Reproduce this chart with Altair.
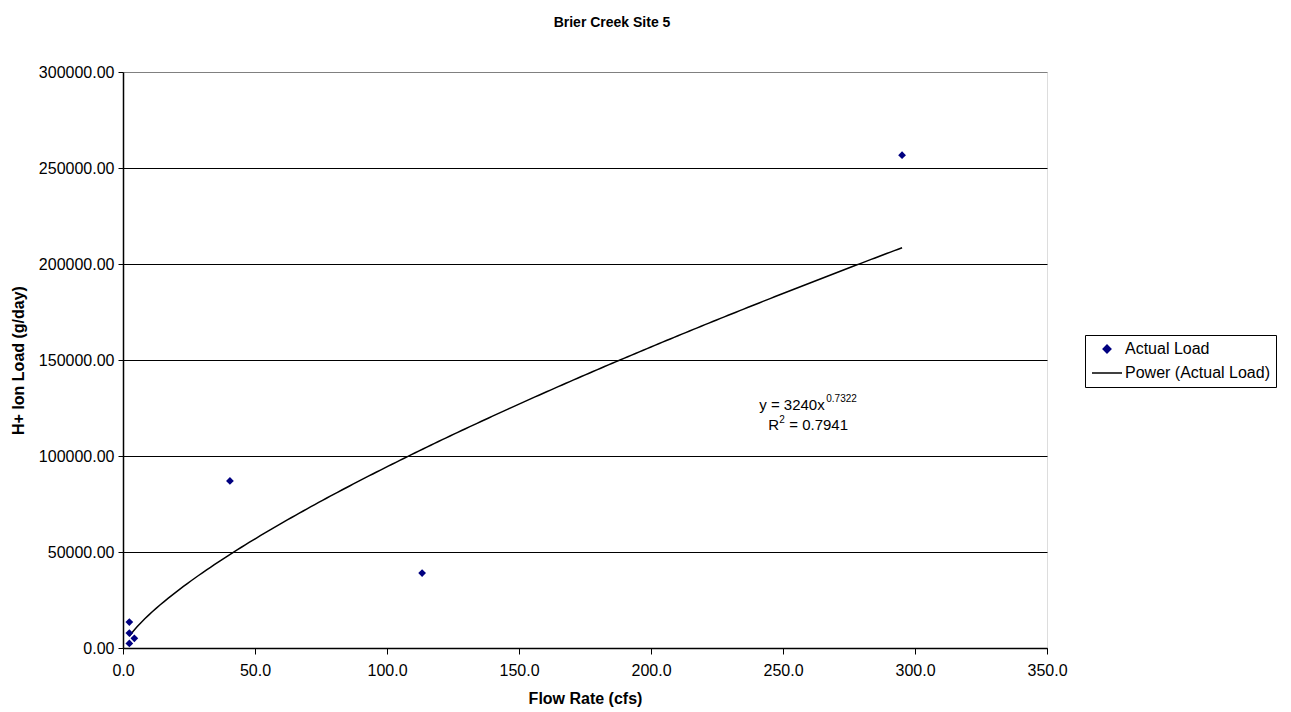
import altair as alt
import pandas as pd

# ---- data ----
flow_cfs = [2.4, 2.4, 4.3, 2.4, 40.5, 113.3, 295.1]
load_g_day = [13500, 7800, 5050, 2400, 87000, 39000, 256700]
series_names = ["Actual Load", "Power (Actual Load)"]
series_colors = ["#000080", "#000000"]

# power trendline coefficients as printed on the chart
coef_a = 3240
coef_b = 0.7322
fit_x_min = 2.4
fit_x_max = 295.1

y_ticks = [0, 50000, 100000, 150000, 200000, 250000, 300000]
x_ticks = [0, 50, 100, 150, 200, 250, 300, 350]

eq_text = ["y = 3240x"]
eq_exp = ["0.7322"]
r_text = ["R"]
r_exp = ["2"]
r_val = ["= 0.7941"]
anno_x = [241.0]
anno_y = [123900]
anno_y2 = [113400]

FONT = "Liberation Sans"

pts = pd.DataFrame({"flow": flow_cfs, "load": load_g_day, "series": series_names[0]})

xscale = alt.Scale(domain=[0, 350], nice=False, zero=False)
yscale = alt.Scale(domain=[0, 300000], nice=False)
color = alt.Color("series:N", scale=alt.Scale(domain=series_names, range=series_colors),
                  legend=alt.Legend(
                      title=None, orient="none", legendX=962, legendY=263,
                      strokeColor="black", fillColor="white", padding=6,
                      labelFont=FONT, labelFontSize=16, labelColor="black",
                      rowPadding=-5, symbolOffset=0, labelOffset=2,
                      symbolStrokeWidth=1.5,
                  ))
shape = alt.Shape("series:N", scale=alt.Scale(domain=series_names, range=["diamond", "stroke"]))
size = alt.Size("series:N", scale=alt.Scale(domain=series_names, range=[60, 900]))

xaxis = alt.Axis(values=x_ticks, format=".1f", title="Flow Rate (cfs)", grid=False,
                 labelFlush=False,
                 labelFont=FONT, labelFontSize=16, labelColor="black", labelPadding=8,
                 tickColor="black", tickSize=6, domainColor="black", domainWidth=1.5,
                 titleFont=FONT, titleFontSize=16, titleFontWeight="bold", titleColor="black",
                 titlePadding=12)
yaxis = alt.Axis(values=y_ticks, format=".2f", title="H+ Ion Load (g/day)", grid=True,
                 labelFlush=False,
                 gridColor={"condition": {"test": "datum.value >= 300000", "value": "#808080"},
                            "value": "black"},
                 gridWidth=1,
                 labelFont=FONT, labelFontSize=16, labelColor="black", labelPadding=4,
                 tickColor="black", tickSize=5, domainColor="black", domainWidth=1.5,
                 titleFont=FONT, titleFontSize=16, titleFontWeight="bold", titleColor="black",
                 titlePadding=12)

points = alt.Chart(pts).mark_point(filled=True, opacity=1).encode(
    x=alt.X("flow:Q", scale=xscale, axis=xaxis),
    y=alt.Y("load:Q", scale=yscale, axis=yaxis),
    color=color,
    shape=shape,
    size=size,
)

trend = alt.Chart(alt.sequence(0, 201, 1, as_="i")).transform_calculate(
    flow=f"{fit_x_min} + datum.i * ({fit_x_max} - {fit_x_min}) / 200",
).transform_calculate(
    load=f"{coef_a} * pow(datum.flow, {coef_b})",
    series=f"'{series_names[1]}'",
).mark_line(strokeWidth=1.5).encode(
    x=alt.X("flow:Q", scale=xscale),
    y=alt.Y("load:Q", scale=yscale),
    color=color,
    order="i:Q",
)

anno = pd.DataFrame({"x": anno_x, "y": anno_y, "y2": anno_y2, "t": eq_text, "e": eq_exp,
                     "r": r_text, "re": r_exp, "rv": r_val})
base_a = alt.Chart(anno)


def txt(field, yfield, size_, dx, dy):
    return base_a.mark_text(align="left", baseline="alphabetic", font=FONT, fontSize=size_,
                            color="black", dx=dx, dy=dy).encode(
        x=alt.X("x:Q", scale=xscale), y=alt.Y(f"{yfield}:Q", scale=yscale), text=f"{field}:N")


t1 = txt("t", "y", 15, 0, 0)
t2 = txt("e", "y", 10, 67, -8)
t3 = txt("r", "y2", 15, 9, 0)
t4 = txt("re", "y2", 10, 20, -7)
t5 = txt("rv", "y2", 15, 30, 0)

chart = alt.layer(trend, points, t1, t2, t3, t4, t5).properties(
    width=924, height=576,
    title=alt.TitleParams("Brier Creek Site 5", font=FONT, fontSize=14, fontWeight="bold",
                          color="black", anchor="middle", dx=27, offset=34),
    autosize=alt.AutoSizeParams(type="none"),
    padding={"left": 123, "top": 72, "right": 244, "bottom": 64},
).configure_view(stroke="#808080", strokeWidth=1.5).configure(background="white")

chart.save("out.html", embed_options={"renderer": "svg", "actions": False})
